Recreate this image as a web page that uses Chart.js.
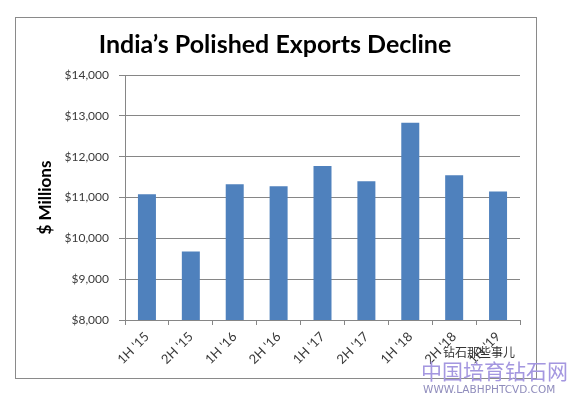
<!DOCTYPE html>
<html>
<head>
<meta charset="utf-8">
<script src="https://cdn.jsdelivr.net/npm/chart.js@4"></script>
<style>
  body { margin: 0; background: #fff; width: 569px; height: 395px; position: relative; overflow: hidden; }
  #wrap { position: absolute; left: 15px; top: 17px; width: 520px; height: 360px; border: 1px solid #8a8a8a; }
  #myChart { display: block; }
  .wm { position: absolute; white-space: nowrap; font-family: "Noto Sans CJK SC", sans-serif; }
</style>
</head>
<body>
<div id="wrap"><canvas id="myChart" width="520" height="360"></canvas></div>
<div class="wm" style="left:443px; top:343px; font-size:12px; color:#333;">钻石那些事儿</div>
<div class="wm" style="left:421px; top:355px; font-size:21px; color:#a497e0;">中国培育钻石网</div>
<div class="wm" style="left:423px; top:383px; font-size:10.5px; color:#8f8cbc; font-family: 'DejaVu Sans', sans-serif;">WWW.LABHPHTCVD.COM</div>
<script>
// half-year periods
const categories = ["1H '15", "2H '15", "1H '16", "2H '16", "1H '17", "2H '17", "1H '18", "2H '18", "1H '19"];
// polished diamond exports, $ millions
const exportValues = [11080, 9675, 11325, 11275, 11770, 11400, 12830, 11545, 11150];
// y axis range
const yMin = 8000;
const yMax = 14000;
const yStep = 1000;

const gridGray = '#868686';
const textGray = '#3a3a3a';

const ctx = document.getElementById('myChart');

new Chart(ctx, {
    type: 'bar',
    data: {
        labels: categories,
        datasets: [{
            label: 'Polished Exports',
            data: exportValues,
            backgroundColor: '#4F81BD',
            borderWidth: 0,
            categoryPercentage: 1.0,
            barPercentage: 0.41
        }]
    },
    options: {
        responsive: false,
        animation: false,
        layout: { padding: { left: 14, right: 16, top: 0, bottom: 0 } },
        plugins: {
            legend: { display: false },
            tooltip: { enabled: false },
            title: {
                display: true,
                text: 'India\u2019s Polished Exports Decline',
                color: '#000',
                font: { family: 'Lato', size: 25, weight: 'bold' },
                padding: { top: 12, bottom: 15 }
            }
        },
        scales: {
            x: {
                offset: true,
                grid: {
                    display: true,
                    drawOnChartArea: false,
                    drawTicks: true,
                    tickLength: 5,
                    color: gridGray
                },
                border: { color: gridGray },
                ticks: {
                    color: textGray,
                    font: { family: 'Lato', size: 13 },
                    maxRotation: 45,
                    minRotation: 45,
                    padding: 4
                },
                afterFit: (scale) => { scale.height = 58; }
            },
            y: {
                min: yMin,
                max: yMax,
                grid: {
                    color: gridGray,
                    tickLength: 6
                },
                border: { color: gridGray },
                ticks: {
                    stepSize: yStep,
                    color: textGray,
                    font: { family: 'Lato', size: 12 },
                    padding: 10,
                    callback: (value) => '$' + value.toLocaleString('en-US')
                },
                title: {
                    display: true,
                    text: '$ Millions',
                    color: '#000',
                    font: { family: 'Lato', size: 17, weight: 'bold' },
                    padding: { top: 5, bottom: 0 }
                },
                afterFit: (scale) => { scale.width = 95; }
            }
        }
    }
});
</script>
</body>
</html>
